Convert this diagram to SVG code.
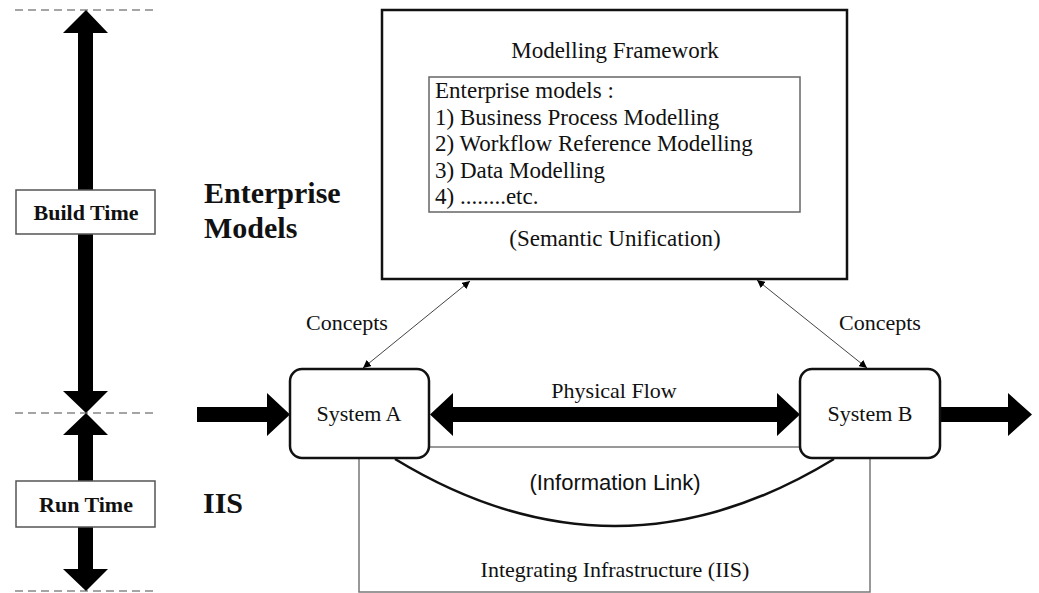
<svg xmlns="http://www.w3.org/2000/svg" width="1039" height="593" viewBox="0 0 1039 593">
<defs>
<marker id="tip" viewBox="0 0 10 10" refX="10" refY="5" markerWidth="8" markerHeight="8" markerUnits="userSpaceOnUse" orient="auto-start-reverse">
<path d="M0,0 L10,5 L0,10 z" fill="#000"/>
</marker>
<style>
.serif{font-family:"Liberation Serif","Times New Roman",serif;fill:#111;}
.sans{font-family:"Liberation Sans",Arial,sans-serif;fill:#111;}
.t22{font-size:22px;}
.t23{font-size:23px;}
.bold{font-weight:bold;}
.mid{text-anchor:middle;}
.dash{stroke:#888;stroke-width:1.3;stroke-dasharray:8 5;fill:none;}
.thick{fill:#000;}
.sysbox{fill:#fff;stroke:#111;stroke-width:2.5;}
.labelbox{fill:#fff;stroke:#555;stroke-width:1.5;}
.thin{stroke:#444;stroke-width:1;fill:none;}
</style>
</defs>
<rect width="1039" height="593" fill="#fff"/>

<g id="timeline">
<line class="dash" x1="15" y1="10" x2="157" y2="10"/>
<line class="dash" x1="15" y1="413" x2="157" y2="413"/>
<line class="dash" x1="15" y1="591" x2="157" y2="591"/>
<polygon class="thick" points="86,10 108,33 93,33 93,391 108,391 86,413 63,391 78,391 78,33 63,33"/>
<polygon class="thick" points="86,413 108,435 93,435 93,569 108,569 86,591 63,569 78,569 78,435 63,435"/>
</g>

<g id="build-time">
<rect class="labelbox" x="16" y="190" width="139" height="44"/>
<text class="serif t22 bold mid" x="86" y="220">Build Time</text>
</g>
<g id="run-time">
<rect class="labelbox" x="16" y="481" width="139" height="46"/>
<text class="serif t22 bold mid" x="86" y="512">Run Time</text>
</g>

<g id="enterprise-models-label">
<text class="serif bold" style="font-size:30px" x="204" y="203">Enterprise</text>
<text class="serif bold" style="font-size:30px" x="204" y="238">Models</text>
</g>
<g id="iis-label">
<text class="serif bold" style="font-size:30px" x="203" y="513">IIS</text>
</g>

<g id="iis-box">
<rect x="359" y="447" width="511" height="145" fill="none" stroke="#777" stroke-width="1.5"/>
<text class="serif t22 mid" x="615" y="577">Integrating Infrastructure (IIS)</text>
</g>

<g id="modelling-framework">
<rect x="382" y="10" width="465" height="269" fill="#fff" stroke="#111" stroke-width="2.5"/>
<text class="serif t23 mid" x="615" y="58">Modelling Framework</text>
<rect x="429" y="77" width="371" height="135" fill="none" stroke="#666" stroke-width="1.5"/>
<text class="serif t23" x="435" y="98">Enterprise models :</text>
<text class="serif t23" x="435" y="125">1) Business Process Modelling</text>
<text class="serif t23" x="435" y="151">2) Workflow Reference Modelling</text>
<text class="serif t23" x="435" y="178">3) Data Modelling</text>
<text class="serif t23" x="435" y="204">4) ........etc.</text>
<text class="serif t23 mid" x="615" y="246">(Semantic Unification)</text>
</g>

<g id="connectors">
<polygon class="thick" points="197,407 267,407 267,393 290,414.5 267,436 267,422 197,422"/>
<polygon class="thick" points="430,414.5 453,393 453,407 777,407 777,393 800,414.5 777,436 777,422 453,422 453,436"/>
<polygon class="thick" points="940,407 1008,407 1008,393 1032,414.5 1008,436 1008,422 940,422"/>
<line class="thin" x1="470" y1="281" x2="363" y2="368" marker-start="url(#tip)" marker-end="url(#tip)"/>
<line class="thin" x1="757" y1="280" x2="867" y2="368" marker-start="url(#tip)" marker-end="url(#tip)"/>
<path d="M395,459 Q615,593 834,459" fill="none" stroke="#111" stroke-width="2.5"/>
<text class="serif t22 mid" x="347" y="330">Concepts</text>
<text class="serif t22 mid" x="880" y="330">Concepts</text>
<text class="serif t22 mid" x="614" y="398">Physical Flow</text>
<text class="sans t22 mid" x="615" y="490">(Information Link)</text>
</g>

<g id="system-a">
<rect class="sysbox" x="290" y="369" width="139" height="89" rx="12"/>
<text class="serif t22 mid" x="359" y="421">System A</text>
</g>
<g id="system-b">
<rect class="sysbox" x="800" y="369" width="140" height="89" rx="12"/>
<text class="serif t22 mid" x="870" y="421">System B</text>
</g>
</svg>
